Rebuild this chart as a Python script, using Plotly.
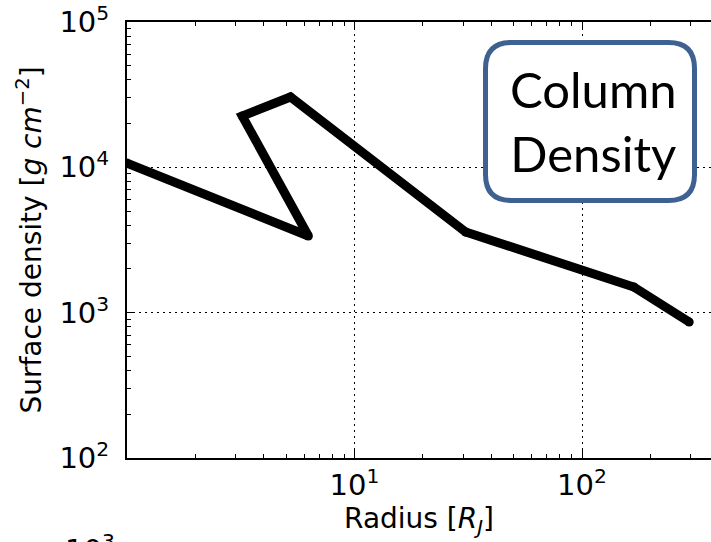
import plotly.graph_objects as go

# Data
radius = [1.0, 6.27, 3.21, 5.23, 30.8, 169, 296]
surface_density = [10700, 3370, 22550, 30500, 3590, 1502, 863]

W, H = 711, 542
L, R, T, B = 127, 0, 22, 84
PW, PH = W - L - R, H - T - B

def px(x):
    return (x - L) / PW

def py(y):
    return (H - B - y) / PH

fig = go.Figure()
fig.add_trace(go.Scatter(
    x=radius, y=surface_density, mode="lines+markers",
    line=dict(color="black", width=9),
    marker=dict(color="black", size=9, line=dict(width=0)),
    showlegend=False, hoverinfo="skip"))

axis_font = dict(family="DejaVu Sans", size=29, color="black")
title_font = dict(family="DejaVu Sans", size=28, color="black")

fig.update_xaxes(
    type="log", range=[0, (W - L) / 227.5], automargin=False,
    showline=True, linecolor="black", linewidth=2, mirror="ticks",
    ticks="inside", ticklen=8, tickwidth=1, tickcolor="black",
    tickvals=[10, 100], ticktext=["10<sup>1</sup>", "10<sup>2</sup>"],
    tickfont=axis_font,
    showgrid=True, gridcolor="black", gridwidth=1, griddash="2px,4px",
    minor=dict(ticks="inside", ticklen=4, tickcolor="black", showgrid=False,
               tickvals=[2, 3, 4, 5, 6, 7, 8, 9, 20, 30, 40, 50, 60, 70, 80, 90, 200, 300, 400]),
    title=dict(text="Radius [<i>R</i><sub><i>J</i></sub>]", font=title_font, standoff=8),
    zeroline=False,
)
fig.update_yaxes(
    type="log", range=[2, 5], automargin=False,
    showline=True, linecolor="black", linewidth=2, mirror=False,
    ticks="inside", ticklen=8, tickwidth=1, tickcolor="black",
    ticklabelstandoff=10,
    tickvals=[100, 1000, 10000, 100000],
    ticktext=["10<sup>2</sup>", "10<sup>3</sup>", "10<sup>4</sup>", "10<sup>5</sup>"],
    tickfont=axis_font,
    showgrid=True, gridcolor="black", gridwidth=1, griddash="2px,4px",
    minor=dict(ticks="inside", ticklen=4, tickcolor="black", showgrid=False,
               tickvals=[200, 300, 400, 500, 600, 700, 800, 900,
                         2000, 3000, 4000, 5000, 6000, 7000, 8000, 9000,
                         20000, 30000, 40000, 50000, 60000, 70000, 80000, 90000]),
    title=dict(text="Surface density [<i>g cm</i><sup>−2</sup>]", font=title_font, standoff=10),
    zeroline=False,
)

# Rounded box for "Column Density"
x0, x1, y0, y1, r = 485.5, 694.5, 42.5, 200.5, 26
rx, ry = r / PW, r / PH
X0, X1, Y0, Y1 = px(x0), px(x1), py(y1), py(y0)
path = (f"M {X0+rx},{Y1} L {X1-rx},{Y1} Q {X1},{Y1} {X1},{Y1-ry} "
        f"L {X1},{Y0+ry} Q {X1},{Y0} {X1-rx},{Y0} "
        f"L {X0+rx},{Y0} Q {X0},{Y0} {X0},{Y0+ry} "
        f"L {X0},{Y1-ry} Q {X0},{Y1} {X0+rx},{Y1} Z")
fig.add_shape(type="path", path=path, xref="paper", yref="paper",
              line=dict(color="#3E6191", width=5), fillcolor="white", layer="above")
fig.add_annotation(x=px(593), y=py(121), xref="paper", yref="paper",
                   text="Column<br>Density", showarrow=False,
                   font=dict(family="Lato", size=49, color="black"),
                   xanchor="center", yanchor="middle", align="center")

# Partially visible tick label of the chart below
fig.add_annotation(x=px(90), y=py(527), xref="paper", yref="paper",
                   text="10<sup>3</sup>", showarrow=False,
                   font=axis_font, xanchor="center", yanchor="top")

fig.update_layout(
    width=W, height=H,
    margin=dict(l=L, r=R, t=T, b=B, autoexpand=False),
    paper_bgcolor="white", plot_bgcolor="white",
)

post = "document.body.style.margin='0'; document.body.style.overflow='hidden';"
fig.write_html("out.html", post_script=post, config={"displayModeBar": False})
